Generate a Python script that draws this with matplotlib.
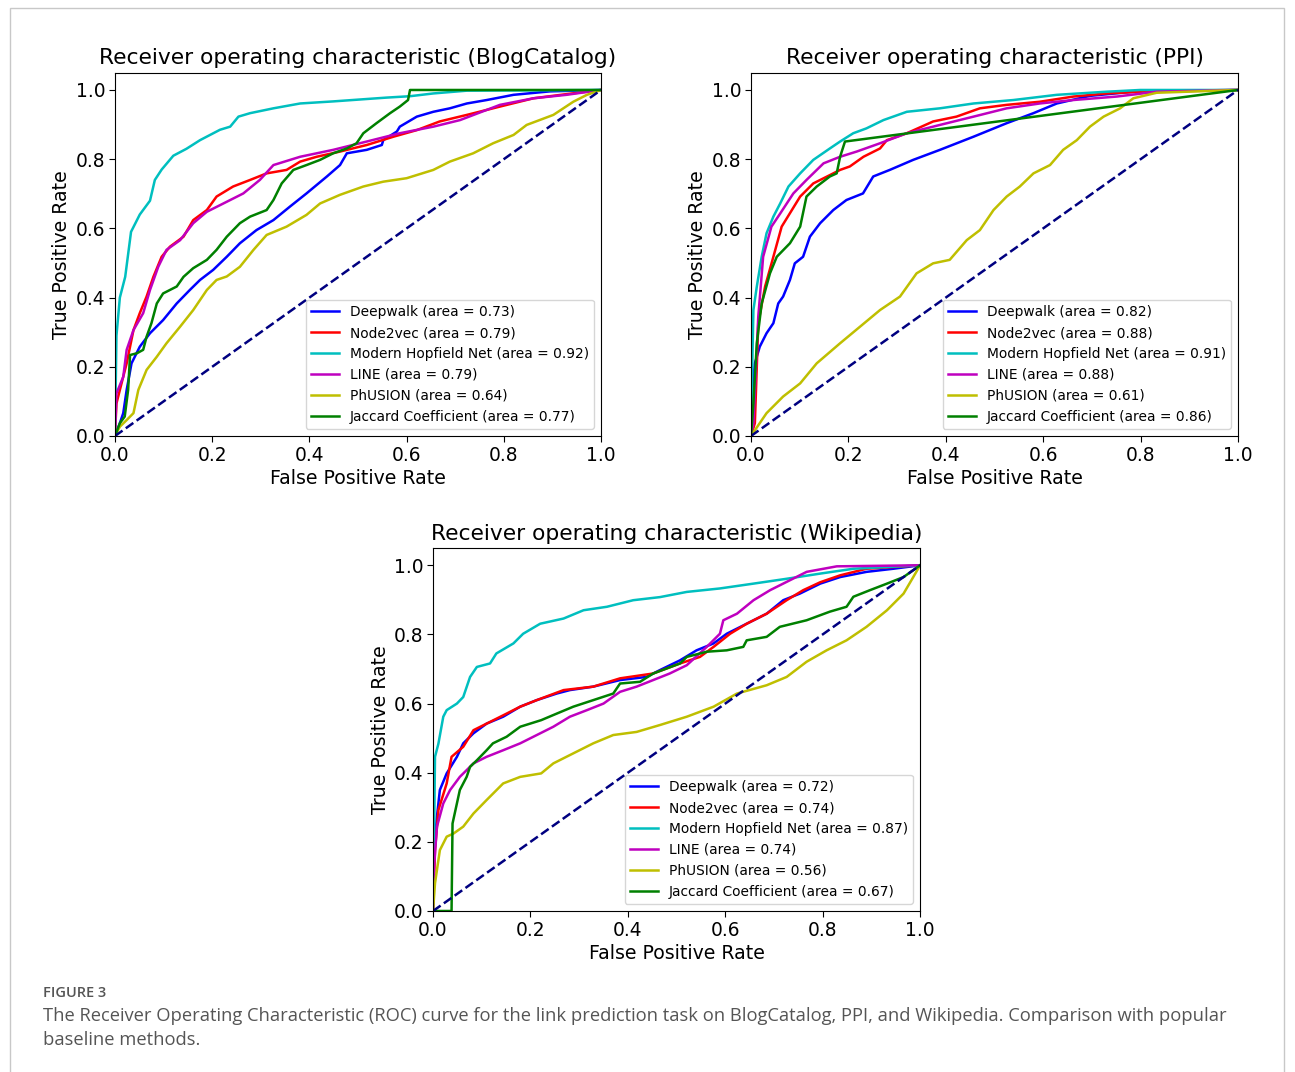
import numpy as np
import matplotlib.pyplot as plt
from matplotlib.patches import Rectangle

# methods, colours and AUC per dataset
methods = ['Deepwalk', 'Node2vec', 'Modern Hopfield Net', 'LINE', 'PhUSION', 'Jaccard Coefficient']
colors = ['b', 'r', 'c', 'm', 'y', 'g']
blog_auc = [0.73, 0.79, 0.92, 0.79, 0.64, 0.77]
ppi_auc = [0.82, 0.88, 0.91, 0.88, 0.61, 0.86]
wiki_auc = [0.72, 0.74, 0.87, 0.74, 0.56, 0.67]

# ROC points (fpr, tpr)
blog_deepwalk = [(0, 0), (0.01, 0.037), (0.017, 0.066), (0.024, 0.133), (0.034, 0.21), (0.051, 0.258),
                 (0.072, 0.297), (0.099, 0.335), (0.127, 0.383), (0.154, 0.422), (0.175, 0.451), (0.202, 0.48),
                 (0.23, 0.518), (0.257, 0.557), (0.291, 0.595), (0.326, 0.624), (0.36, 0.663), (0.394, 0.701),
                 (0.436, 0.75), (0.463, 0.783), (0.477, 0.817), (0.518, 0.827), (0.549, 0.841), (0.552, 0.855),
                 (0.58, 0.88), (0.586, 0.894), (0.621, 0.923), (0.655, 0.937), (0.689, 0.947), (0.724, 0.961),
                 (0.765, 0.971), (0.82, 0.986), (0.895, 0.996), (1, 1)]
blog_node2vec = [(0, 0), (0.003, 0.094), (0.01, 0.133), (0.024, 0.21), (0.038, 0.306), (0.051, 0.355),
                 (0.065, 0.403), (0.079, 0.46), (0.096, 0.518), (0.113, 0.547), (0.141, 0.576), (0.161, 0.624),
                 (0.189, 0.653), (0.209, 0.692), (0.243, 0.721), (0.278, 0.74), (0.312, 0.759), (0.353, 0.769),
                 (0.381, 0.793), (0.415, 0.807), (0.463, 0.822), (0.518, 0.841), (0.573, 0.865), (0.621, 0.884),
                 (0.668, 0.909), (0.724, 0.928), (0.792, 0.952), (0.861, 0.976), (0.929, 0.988), (1, 1)]
blog_hopfield = [(0, 0), (0.003, 0.29), (0.01, 0.40), (0.021, 0.46), (0.033, 0.59), (0.051, 0.64),
                 (0.072, 0.68), (0.082, 0.74), (0.096, 0.77), (0.12, 0.81), (0.147, 0.83), (0.175, 0.855),
                 (0.216, 0.885), (0.237, 0.894), (0.254, 0.923), (0.278, 0.933), (0.326, 0.947), (0.381, 0.961),
                 (0.449, 0.967), (0.559, 0.978), (0.607, 0.982), (0.655, 0.99), (0.724, 0.998), (1, 1)]
blog_line = [(0, 0), (0.003, 0.123), (0.017, 0.171), (0.024, 0.249), (0.038, 0.306), (0.058, 0.355),
             (0.072, 0.422), (0.089, 0.489), (0.106, 0.538), (0.134, 0.566), (0.161, 0.615), (0.189, 0.648),
             (0.223, 0.672), (0.264, 0.701), (0.298, 0.74), (0.326, 0.783), (0.381, 0.807), (0.449, 0.827),
             (0.518, 0.851), (0.586, 0.875), (0.655, 0.894), (0.71, 0.913), (0.792, 0.957), (0.861, 0.976),
             (0.929, 0.986), (1, 1)]
blog_phusion = [(0, 0), (0.01, 0.027), (0.024, 0.046), (0.038, 0.066), (0.048, 0.133), (0.065, 0.191),
                (0.086, 0.229), (0.106, 0.268), (0.134, 0.316), (0.161, 0.364), (0.189, 0.422), (0.209, 0.451),
                (0.23, 0.461), (0.257, 0.489), (0.285, 0.538), (0.312, 0.581), (0.353, 0.605), (0.394, 0.639),
                (0.422, 0.672), (0.463, 0.697), (0.511, 0.721), (0.552, 0.735), (0.6, 0.745), (0.655, 0.769),
                (0.689, 0.793), (0.737, 0.817), (0.778, 0.846), (0.82, 0.87), (0.847, 0.899), (0.902, 0.928),
                (0.943, 0.966), (0.971, 0.986), (1, 1)]
blog_jaccard = [(0, 0), (0.01, 0.037), (0.02, 0.056), (0.027, 0.133), (0.031, 0.234), (0.045, 0.239),
                (0.058, 0.249), (0.065, 0.287), (0.075, 0.326), (0.086, 0.383), (0.099, 0.412), (0.127, 0.432),
                (0.141, 0.46), (0.161, 0.485), (0.189, 0.509), (0.209, 0.538), (0.23, 0.576), (0.257, 0.615),
                (0.278, 0.634), (0.312, 0.653), (0.326, 0.682), (0.343, 0.73), (0.367, 0.769), (0.394, 0.783),
                (0.422, 0.798), (0.449, 0.817), (0.477, 0.831), (0.497, 0.846), (0.511, 0.875), (0.538, 0.904),
                (0.566, 0.933), (0.586, 0.952), (0.603, 0.971), (0.607, 1.0), (1, 1)]

ppi_deepwalk = [(0, 0), (0.003, 0.133), (0.008, 0.21), (0.018, 0.258), (0.032, 0.297), (0.046, 0.326),
                (0.056, 0.383), (0.066, 0.403), (0.08, 0.451), (0.09, 0.499), (0.107, 0.518), (0.121, 0.576),
                (0.142, 0.615), (0.169, 0.653), (0.196, 0.682), (0.23, 0.701), (0.251, 0.75), (0.285, 0.769),
                (0.333, 0.798), (0.388, 0.827), (0.457, 0.865), (0.525, 0.904), (0.58, 0.933), (0.628, 0.961),
                (0.696, 0.983), (0.799, 0.997), (1, 1)]
ppi_node2vec = [(0, 0), (0.008, 0.037), (0.015, 0.326), (0.029, 0.432), (0.046, 0.518), (0.063, 0.605),
                (0.084, 0.653), (0.101, 0.692), (0.128, 0.73), (0.162, 0.754), (0.183, 0.769), (0.203, 0.779),
                (0.231, 0.807), (0.265, 0.831), (0.279, 0.855), (0.32, 0.875), (0.374, 0.909), (0.422, 0.923),
                (0.47, 0.947), (0.525, 0.957), (0.593, 0.966), (0.662, 0.981), (0.73, 0.99), (0.833, 0.997), (1, 1)]
ppi_hopfield = [(0, 0), (0.003, 0.229), (0.005, 0.364), (0.012, 0.432), (0.022, 0.518), (0.032, 0.586),
                (0.046, 0.634), (0.06, 0.672), (0.077, 0.721), (0.101, 0.759), (0.128, 0.798), (0.162, 0.831),
                (0.183, 0.851), (0.21, 0.875), (0.237, 0.889), (0.272, 0.913), (0.32, 0.937), (0.388, 0.947),
                (0.457, 0.961), (0.539, 0.971), (0.628, 0.986), (0.73, 0.995), (0.799, 1.0), (1, 1)]
ppi_line = [(0, 0), (0.005, 0.037), (0.015, 0.345), (0.025, 0.518), (0.042, 0.605), (0.06, 0.643),
            (0.087, 0.701), (0.114, 0.74), (0.149, 0.788), (0.183, 0.807), (0.217, 0.822), (0.265, 0.846),
            (0.32, 0.875), (0.388, 0.899), (0.457, 0.923), (0.525, 0.947), (0.593, 0.961), (0.662, 0.971),
            (0.751, 0.981), (0.833, 0.995), (1, 1)]
ppi_phusion = [(0, 0), (0.032, 0.066), (0.066, 0.114), (0.101, 0.152), (0.135, 0.21), (0.183, 0.268),
               (0.224, 0.316), (0.265, 0.364), (0.306, 0.403), (0.34, 0.47), (0.374, 0.499), (0.408, 0.509),
               (0.443, 0.566), (0.47, 0.595), (0.498, 0.653), (0.525, 0.692), (0.552, 0.721), (0.58, 0.759),
               (0.614, 0.783), (0.641, 0.827), (0.669, 0.855), (0.696, 0.894), (0.724, 0.923), (0.758, 0.947),
               (0.785, 0.976), (0.833, 0.992), (1, 1)]
ppi_jaccard = [(0, 0), (0.005, 0.094), (0.012, 0.268), (0.022, 0.383), (0.039, 0.47), (0.053, 0.518),
               (0.08, 0.557), (0.101, 0.605), (0.114, 0.692), (0.135, 0.721), (0.162, 0.75), (0.176, 0.759),
               (0.183, 0.807), (0.193, 0.851), (1, 1)]

wiki_deepwalk = [(0, 0), (0.002, 0.176), (0.008, 0.273), (0.014, 0.35), (0.028, 0.398), (0.049, 0.446),
                 (0.062, 0.485), (0.083, 0.514), (0.11, 0.542), (0.144, 0.562), (0.179, 0.591), (0.213, 0.61),
                 (0.254, 0.629), (0.281, 0.639), (0.329, 0.649), (0.384, 0.668), (0.438, 0.677), (0.466, 0.697),
                 (0.507, 0.725), (0.541, 0.754), (0.576, 0.774), (0.603, 0.802), (0.644, 0.831), (0.685, 0.86),
                 (0.719, 0.899), (0.753, 0.918), (0.795, 0.947), (0.836, 0.966), (0.89, 0.981), (0.945, 0.99), (1, 1)]
wiki_node2vec = [(0, 0), (0.004, 0.176), (0.011, 0.292), (0.028, 0.369), (0.038, 0.446), (0.062, 0.475),
                 (0.083, 0.523), (0.11, 0.542), (0.144, 0.566), (0.179, 0.591), (0.213, 0.61), (0.268, 0.639),
                 (0.329, 0.649), (0.384, 0.673), (0.452, 0.687), (0.507, 0.716), (0.548, 0.735), (0.576, 0.764),
                 (0.61, 0.802), (0.644, 0.831), (0.685, 0.86), (0.726, 0.899), (0.76, 0.928), (0.795, 0.951),
                 (0.836, 0.971), (0.89, 0.99), (1, 1)]
wiki_hopfield = [(0, 0), (0.002, 0.196), (0.004, 0.446), (0.011, 0.484), (0.021, 0.562), (0.028, 0.581),
                 (0.049, 0.6), (0.062, 0.619), (0.076, 0.677), (0.09, 0.706), (0.117, 0.716), (0.13, 0.745),
                 (0.165, 0.774), (0.185, 0.802), (0.22, 0.831), (0.268, 0.846), (0.309, 0.87), (0.357, 0.88),
                 (0.411, 0.899), (0.466, 0.908), (0.521, 0.923), (0.589, 0.933), (0.658, 0.947), (0.726, 0.961),
                 (0.795, 0.976), (0.863, 0.99), (1, 1)]
wiki_line = [(0, 0), (0.002, 0.128), (0.008, 0.244), (0.021, 0.311), (0.035, 0.35), (0.055, 0.388),
             (0.083, 0.427), (0.11, 0.446), (0.144, 0.465), (0.179, 0.485), (0.213, 0.509), (0.247, 0.533),
             (0.281, 0.562), (0.316, 0.581), (0.35, 0.6), (0.384, 0.634), (0.418, 0.649), (0.452, 0.668),
             (0.486, 0.687), (0.521, 0.711), (0.562, 0.764), (0.589, 0.802), (0.596, 0.841), (0.624, 0.86),
             (0.658, 0.899), (0.692, 0.928), (0.726, 0.952), (0.767, 0.981), (0.829, 0.997), (1, 1)]
wiki_phusion = [(0, 0), (0.004, 0.08), (0.014, 0.176), (0.028, 0.215), (0.042, 0.224), (0.062, 0.244),
                (0.083, 0.282), (0.11, 0.321), (0.144, 0.369), (0.179, 0.388), (0.222, 0.398), (0.247, 0.427),
                (0.288, 0.456), (0.329, 0.485), (0.37, 0.509), (0.418, 0.518), (0.466, 0.538), (0.521, 0.562),
                (0.576, 0.591), (0.624, 0.629), (0.685, 0.653), (0.726, 0.677), (0.767, 0.721), (0.808, 0.754),
                (0.849, 0.783), (0.89, 0.822), (0.932, 0.87), (0.966, 0.918), (0.986, 0.966), (1, 1)]
wiki_jaccard = [(0, 0), (0.038, 0.0), (0.04, 0.253), (0.055, 0.35), (0.069, 0.388), (0.076, 0.417),
                (0.09, 0.436), (0.11, 0.465), (0.123, 0.485), (0.151, 0.504), (0.179, 0.533), (0.222, 0.552),
                (0.254, 0.571), (0.288, 0.591), (0.329, 0.61), (0.37, 0.629), (0.384, 0.658), (0.425, 0.663),
                (0.452, 0.687), (0.507, 0.716), (0.521, 0.735), (0.562, 0.75), (0.603, 0.754), (0.637, 0.764),
                (0.644, 0.783), (0.685, 0.793), (0.712, 0.822), (0.767, 0.841), (0.815, 0.866), (0.849, 0.88),
                (0.863, 0.909), (0.897, 0.928), (0.932, 0.947), (0.966, 0.966), (1, 1)]

panels = [
    ('BlogCatalog', [blog_deepwalk, blog_node2vec, blog_hopfield, blog_line, blog_phusion, blog_jaccard],
     blog_auc, [0.0888, 0.5933, 0.3753, 0.3389]),
    ('PPI', [ppi_deepwalk, ppi_node2vec, ppi_hopfield, ppi_line, ppi_phusion, ppi_jaccard],
     ppi_auc, [0.5799, 0.5933, 0.3761, 0.3389]),
    ('Wikipedia', [wiki_deepwalk, wiki_node2vec, wiki_hopfield, wiki_line, wiki_phusion, wiki_jaccard],
     wiki_auc, [0.3344, 0.1502, 0.3761, 0.3386]),
]

fig = plt.figure(figsize=(12.95, 10.72), dpi=100)

for name, curves, aucs, rect in panels:
    ax = fig.add_axes(rect)
    for pts, method, color, auc in zip(curves, methods, colors, aucs):
        pts = np.array(pts)
        ax.plot(pts[:, 0], pts[:, 1], color=color, lw=1.8,
                label=f'{method} (area = {auc:.2f})')
    ax.plot([0, 1], [0, 1], color='navy', lw=1.8, linestyle='--')
    ax.set_xlim([0.0, 1.0])
    ax.set_ylim([0.0, 1.05])
    ax.set_xlabel('False Positive Rate', fontsize=13.6, labelpad=3)
    ax.set_ylabel('True Positive Rate', fontsize=13.6, labelpad=3)
    ax.set_title(f'Receiver operating characteristic ({name})', fontsize=15.7, pad=6)
    ax.tick_params(labelsize=13.4, length=4.5, pad=2.5)
    ax.legend(loc='lower right', fontsize=9.9)

# figure frame and caption
fig.patches.append(Rectangle((10 / 1295, -0.05), 1274 / 1295, 1 - 8 / 1072 + 0.05,
                             transform=fig.transFigure, fill=False, edgecolor='#c8c8c8', lw=1))
fig.text(43 / 1295, 1 - 993 / 1072, 'FIGURE 3', fontsize=10.5, color='#555555',
         family='Open Sans', weight='semibold', va='center')
fig.text(43 / 1295, 1 - 1016 / 1072,
         'The Receiver Operating Characteristic (ROC) curve for the link prediction task on BlogCatalog, '
         'PPI, and Wikipedia. Comparison with popular', fontsize=13.2, color='#555555',
         family='Open Sans', va='center')
fig.text(43 / 1295, 1 - 1040 / 1072, 'baseline methods.', fontsize=13.2, color='#555555',
         family='Open Sans', va='center')

fig.savefig('out.png', dpi=100)
